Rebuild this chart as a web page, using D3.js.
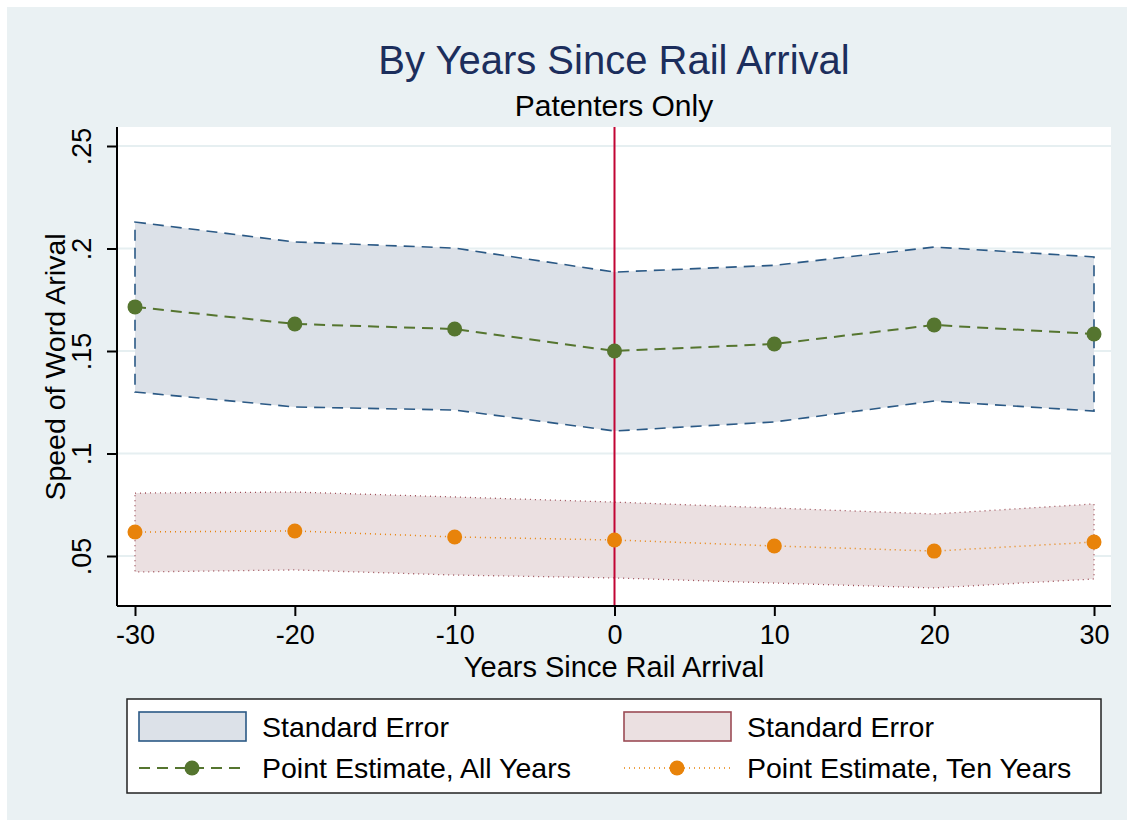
<!DOCTYPE html>
<html>
<head>
<meta charset="utf-8">
<script src="https://cdn.jsdelivr.net/npm/d3@7"></script>
<style>
  body { margin: 0; background: #fff; }
  text { font-family: "Liberation Sans", Arial, sans-serif; }
</style>
</head>
<body>
<div id="chart"></div>
<script>
// Years since rail arrival
var years = [-30, -20, -10, 0, 10, 20, 30];
// All years: point estimate and standard-error band
var allEst   = [0.1715, 0.1632, 0.1607, 0.1500, 0.1534, 0.1627, 0.1583];
var allUpper = [0.2129, 0.2032, 0.2002, 0.1885, 0.1918, 0.2007, 0.1959];
var allLower = [0.1300, 0.1227, 0.1212, 0.1110, 0.1154, 0.1256, 0.1207];
// Ten years: point estimate and standard-error band
var tenEst   = [0.0617, 0.0622, 0.0593, 0.0578, 0.0549, 0.0524, 0.0568];
var tenUpper = [0.0807, 0.0812, 0.0788, 0.0763, 0.0734, 0.0705, 0.0754];
var tenLower = [0.0422, 0.0432, 0.0407, 0.0393, 0.0368, 0.0344, 0.0388];
var yTicks = [0.05, 0.1, 0.15, 0.2, 0.25];
var yTickLabels = [".05", ".1", ".15", ".2", ".25"];

var W = 1134, H = 827;
var svg = d3.select("#chart").append("svg").attr("width", W).attr("height", H);

// outer background
svg.append("rect").attr("x", 7).attr("y", 7).attr("width", W - 14).attr("height", H - 14)
  .attr("fill", "#eaf1f3");

var plot = { left: 117, right: 1111, top: 127, bottom: 606 };

var x = d3.scaleLinear().domain([-30, 30]).range([135, 1094]);
var y = d3.scaleLinear().domain([0.05, 0.25]).range([556, 146]);

svg.append("rect").attr("x", plot.left).attr("y", plot.top)
  .attr("width", plot.right - plot.left).attr("height", plot.bottom - plot.top)
  .attr("fill", "#fff");

// gridlines
svg.selectAll(".grid").data(yTicks).enter().append("line")
  .attr("x1", plot.left).attr("x2", plot.right)
  .attr("y1", function(d) { return y(d); }).attr("y2", function(d) { return y(d); })
  .attr("stroke", "#e6eff1").attr("stroke-width", 2);

function bandData(up, lo) {
  return years.map(function(yr, i) { return { x: yr, hi: up[i], lo: lo[i] }; });
}
var area = d3.area().x(function(d) { return x(d.x); })
  .y0(function(d) { return y(d.lo); }).y1(function(d) { return y(d.hi); });
function outline(d) {
  // closed outline of the band
  var pts = d.map(function(p) { return [x(p.x), y(p.hi)]; })
    .concat(d.slice().reverse().map(function(p) { return [x(p.x), y(p.lo)]; }));
  return d3.line()(pts) + "Z";
}

var blue = bandData(allUpper, allLower);
svg.append("path").attr("d", area(blue)).attr("fill", "#dce1e8");
svg.append("path").attr("d", outline(blue)).attr("fill", "none")
  .attr("stroke", "#2b5985").attr("stroke-width", 1.6).attr("stroke-dasharray", "11,7");

var pink = bandData(tenUpper, tenLower);
svg.append("path").attr("d", area(pink)).attr("fill", "#ebe0e1");
svg.append("path").attr("d", outline(pink)).attr("fill", "none")
  .attr("stroke", "#9b4b55").attr("stroke-width", 1.3).attr("stroke-dasharray", "1,4");

// vertical line at rail arrival
svg.append("line").attr("x1", x(0)).attr("x2", x(0)).attr("y1", plot.top).attr("y2", plot.bottom)
  .attr("stroke", "#c10534").attr("stroke-width", 2);

var line = d3.line().x(function(d) { return x(d[0]); }).y(function(d) { return y(d[1]); });
var green = years.map(function(yr, i) { return [yr, allEst[i]]; });
var orange = years.map(function(yr, i) { return [yr, tenEst[i]]; });

svg.append("path").attr("d", line(green)).attr("fill", "none")
  .attr("stroke", "#55752f").attr("stroke-width", 2).attr("stroke-dasharray", "11,7");
svg.append("path").attr("d", line(orange)).attr("fill", "none")
  .attr("stroke", "#e8830a").attr("stroke-width", 1.5).attr("stroke-dasharray", "1,4");

svg.selectAll(".gpt").data(green).enter().append("circle")
  .attr("cx", function(d) { return x(d[0]); }).attr("cy", function(d) { return y(d[1]); })
  .attr("r", 7.5).attr("fill", "#55752f");
svg.selectAll(".opt").data(orange).enter().append("circle")
  .attr("cx", function(d) { return x(d[0]); }).attr("cy", function(d) { return y(d[1]); })
  .attr("r", 7.5).attr("fill", "#e8830a");

// axes
var yAxis = svg.append("g").attr("transform", "translate(" + plot.left + ",0)")
  .call(d3.axisLeft(y).tickValues(yTicks).tickSize(10)
    .tickFormat(function(d, i) { return yTickLabels[i]; }));
yAxis.select(".domain").attr("d", "M0," + plot.top + "V" + plot.bottom).attr("stroke-width", 2);
yAxis.selectAll(".tick line").attr("stroke-width", 2);
yAxis.selectAll(".tick text")
  .attr("font-size", 27).attr("fill", "#000")
  .attr("text-anchor", "middle")
  .attr("transform", "translate(-35,0) rotate(-90)")
  .attr("x", 0).attr("dy", "0.35em");

var xAxis = svg.append("g").attr("transform", "translate(0," + plot.bottom + ")")
  .call(d3.axisBottom(x).tickValues(years).tickSize(10));
xAxis.select(".domain").attr("d", "M" + plot.left + ",0H" + plot.right).attr("stroke-width", 2);
xAxis.selectAll(".tick line").attr("stroke-width", 2);
xAxis.selectAll(".tick text").attr("font-size", 27).attr("fill", "#000").attr("y", 19)
  .text(function(d) { return d; });
svg.selectAll(".tick text").style("font-family", "'Liberation Sans', Arial, sans-serif");

// titles
svg.append("text").attr("x", 614).attr("y", 74).attr("text-anchor", "middle")
  .attr("font-size", 40).attr("fill", "#1c2e5c").text("By Years Since Rail Arrival");
svg.append("text").attr("x", 614).attr("y", 116).attr("text-anchor", "middle")
  .attr("font-size", 30).attr("fill", "#000").text("Patenters Only");
svg.append("text").attr("x", 614).attr("y", 677).attr("text-anchor", "middle")
  .attr("font-size", 29).attr("fill", "#000").text("Years Since Rail Arrival");
svg.append("text").attr("transform", "translate(65,367) rotate(-90)").attr("text-anchor", "middle")
  .attr("font-size", 28.5).attr("fill", "#000").text("Speed of Word Arival");

// legend
var lg = svg.append("g");
lg.append("rect").attr("x", 127).attr("y", 699).attr("width", 974).attr("height", 94)
  .attr("fill", "#fff").attr("stroke", "#222").attr("stroke-width", 1.5);

var legendItems = [
  { col: 0, row: 0, type: "band", fill: "#dce1e8", stroke: "#2b5985", label: "Standard Error" },
  { col: 1, row: 0, type: "band", fill: "#ebe0e1", stroke: "#9b4b55", label: "Standard Error" },
  { col: 0, row: 1, type: "line", color: "#55752f", dash: "11,7", width: 2, label: "Point Estimate, All Years" },
  { col: 1, row: 1, type: "line", color: "#e8830a", dash: "1,4", width: 1.5, label: "Point Estimate, Ten Years" }
];
var colX = [139, 624], rowY = [727, 768];
legendItems.forEach(function(it) {
  var x0 = colX[it.col], cy = rowY[it.row];
  if (it.type === "band") {
    lg.append("rect").attr("x", x0).attr("y", cy - 15).attr("width", 107).attr("height", 29)
      .attr("fill", it.fill).attr("stroke", it.stroke).attr("stroke-width", 1.6);
  } else {
    lg.append("line").attr("x1", x0).attr("x2", x0 + 107).attr("y1", cy).attr("y2", cy)
      .attr("stroke", it.color).attr("stroke-width", it.width).attr("stroke-dasharray", it.dash);
    lg.append("circle").attr("cx", x0 + 53).attr("cy", cy).attr("r", 7.5).attr("fill", it.color);
  }
  lg.append("text").attr("x", x0 + 123).attr("y", cy).attr("dy", "0.35em")
    .attr("font-size", 28.5).attr("fill", "#000").text(it.label);
});
</script>
</body>
</html>
